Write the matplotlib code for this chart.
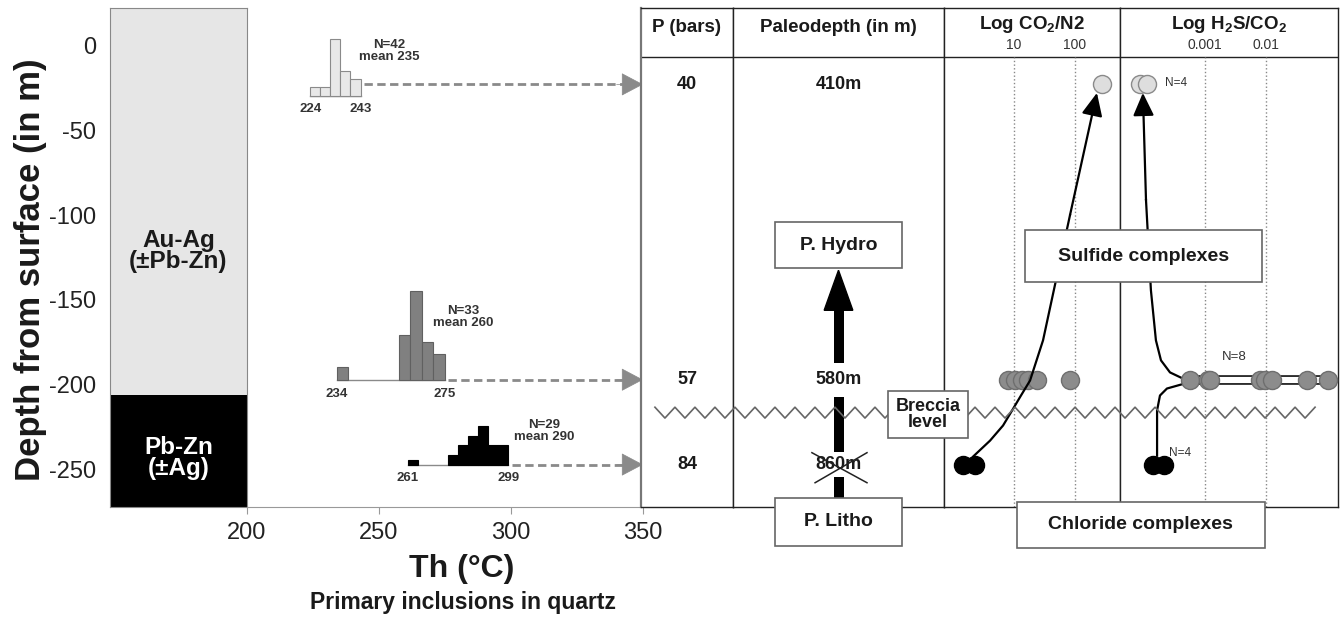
import matplotlib
matplotlib.use("Agg")
import matplotlib.pyplot as plt
from matplotlib.patches import Rectangle
from matplotlib.ticker import NullLocator
import numpy as np

plt.rcParams['font.family'] = ['Liberation Sans', 'DejaVu Sans']
plt.rcParams['mathtext.fontset'] = 'custom'
plt.rcParams['mathtext.rm'] = 'Liberation Sans'
plt.rcParams['mathtext.bf'] = 'Liberation Sans:bold'
plt.rcParams['mathtext.default'] = 'regular'
plt.rcParams['axes.unicode_minus'] = False

# ore zones of the vein (depth in m)
zone_names = ['Au-Ag\n(±Pb-Zn)', 'Pb-Zn\n(±Ag)']
zone_top = [22, -206]
zone_bottom = [-206, -272]
zone_label_depth = [-121, -243]

# sampled levels
sample_depth = [-23, -197, -247]
p_bars = [40, 57, 84]
paleodepth = ['410m', '580m', '860m']

# Th histograms, bin left edges and counts
h1_left = [224, 227.8, 231.6, 235.4, 239.2]
h1_count = [3, 3, 21, 9, 6]
h2_left = [234, 257.4, 261.8, 266.2, 270.6]
h2_count = [2, 7, 14, 6, 4]
h3_left = [261, 276.2, 280, 283.8, 287.6, 291.4, 295.2]
h3_count = [1, 2, 4, 6, 8, 4, 4]
hist_n = [42, 33, 29]
hist_mean = [235, 260, 290]
hist_min = [224, 234, 261]
hist_max = [243, 275, 299]

# gas ratios per level
co2_top = [277]
h2s_top = [8.6e-5, 1.12e-4]
co2_mid = [8.0, 10.4, 13.5, 16.9, 23.8, 82]
h2s_mid = [5.7e-4, 1.12e-3, 1.2e-3, 8.0e-3, 9.5e-3, 1.25e-2, 4.7e-2, 0.104]
co2_low = [1.46, 2.3]
h2s_low = [1.41e-4, 2.13e-4]

# evolution paths
co2_path_x = [2.13, 4.04, 6.6, 9.3, 13.0, 18.3, 29.9, 82.8, 229]
co2_path_d = [-242.3, -232.9, -224, -215.1, -206.3, -197.5, -173.8, -100, -28]
h2s_up_x = [4.7e-4, 2.67e-4, 1.90e-4, 1.57e-4, 1.30e-4, 1.08e-4, 9.6e-5]
h2s_up_d = [-196.9, -192.7, -185.6, -173.8, -144.3, -91.2, -28]
h2s_lo_x = [1.64e-4, 1.64e-4, 1.83e-4, 2.38e-4, 4.7e-4]
h2s_lo_d = [-241.8, -215.1, -206.3, -202.2, -199.2]

breccia_depth = -216.4

W, H = 1342, 621
ymin, ymax = -272, 22
TXT = '#1a1a1a'


def frame(x0, x1, y0=8, y1=507):
    return [x0 / W, 1 - y1 / H, (x1 - x0) / W, (y1 - y0) / H]


fig = plt.figure(figsize=(W / 100, H / 100), dpi=100)

# depth column with ore zones
col = fig.add_axes(frame(110, 247))
col.set_xlim(0, 1)
col.set_ylim(ymin, ymax)
zone_fc = ['#e6e6e6', 'black']
zone_tc = [TXT, 'white']
for name, top, bot, yl, fc, tc in zip(zone_names, zone_top, zone_bottom,
                                      zone_label_depth, zone_fc, zone_tc):
    col.axhspan(bot, top, color=fc, lw=0)
    col.text(0.5, yl, name, color=tc, ha='center', va='center',
             fontsize=17.5, fontweight='bold', linespacing=0.9)
col.set_xticks([])
col.set_yticks([0, -50, -100, -150, -200, -250])
col.tick_params(axis='y', length=0, labelsize=17, pad=10, labelcolor='#222')
for s in col.spines.values():
    s.set_color('#888')
col.set_ylabel('Depth from surface (in m)', fontsize=25, fontweight='bold',
               color=TXT)
col.yaxis.set_label_coords(-0.46, 0.475)

# Th axis with histograms
ax = fig.add_axes(frame(247, 643), sharey=col)
ax.patch.set_visible(False)
ax.set_xlim(200, 350)
for s in ['left', 'top', 'right']:
    ax.spines[s].set_visible(False)
ax.spines['bottom'].set_color('#999')
ax.set_xticks([200, 250, 300, 350])
ax.tick_params(axis='x', length=5, color='#999', labelsize=17,
               labelcolor='#222', pad=6)
ax.tick_params(axis='y', left=False, labelleft=False)
fig.text(462 / W, 1 - 569 / H, 'Th (°C)', ha='center', va='center',
         fontsize=23, fontweight='bold', color=TXT)
fig.text(463 / W, 1 - 602 / H, 'Primary inclusions in quartz', ha='center',
         va='center', fontsize=16.5, fontweight='bold', color=TXT)

hists = [(h1_left, h1_count, 3.8, 1.6, -29.6, '#e8e8e8', '#8a8a8a'),
         (h2_left, h2_count, 4.4, 3.75, sample_depth[1], '#808080', '#606060'),
         (h3_left, h3_count, 3.8, 2.81, sample_depth[2], 'black', 'black')]
label_pos = [(254, -3.5), (282, -160), (312.5, -227)]
for i, (left, cnt, w, scale, base, fc, ec) in enumerate(hists):
    ax.plot([hist_min[i], hist_max[i]], [base, base], color='#8a8a8a', lw=1)
    ax.bar(left, np.array(cnt) * scale, width=w, bottom=base, align='edge',
           color=fc, edgecolor=ec, lw=0.8, zorder=3)
    ax.text(*label_pos[i], f'N={hist_n[i]}\nmean {hist_mean[i]}', ha='center',
            va='center', fontsize=9.5, fontweight='bold', color='#333',
            linespacing=1.0)
    for v in (hist_min[i], hist_max[i]):
        ax.annotate(str(v), (v, base), xytext=(0, -10), textcoords='offset points',
                    ha='center', va='center', fontsize=9.5, fontweight='bold',
                    color='#333')
    # dashed link to the table row, solid triangular head
    ax.plot([hist_max[i] + 1.2, 343], [sample_depth[i]] * 2, color='#8a8a8a',
            lw=2, ls=(0, (3, 1.6)))
    ax.annotate('', xy=(350, sample_depth[i]), xytext=(340, sample_depth[i]),
                arrowprops=dict(arrowstyle='-|>,head_length=0.72,head_width=0.38',
                                lw=0.5, color='#8a8a8a', mutation_scale=20,
                                shrinkA=0, shrinkB=0),
                annotation_clip=False)

# table columns
pcol = fig.add_axes(frame(641, 733), sharey=col)
pdcol = fig.add_axes(frame(733, 944), sharey=col)
co2 = fig.add_axes(frame(944, 1120), sharey=col)
h2s = fig.add_axes(frame(1120, 1338), sharey=col)
pcol.set_xlim(0, 1)
pdcol.set_xlim(0, 1)
co2.set_xscale('log')
co2.set_xlim(0.71, 547)
h2s.set_xscale('log')
h2s.set_xlim(4.05e-5, 0.151)
header_d = -6.8
for a in (pcol, pdcol, co2, h2s):
    a.set_xticks([])
    a.xaxis.set_minor_locator(NullLocator())
    a.tick_params(left=False, labelleft=False, bottom=False, labelbottom=False)
    for s in a.spines.values():
        s.set_color('#222')
        s.set_linewidth(1)
    a.axhline(header_d, color='#222', lw=1)
pcol.spines['left'].set_color('#777')
pcol.spines['left'].set_linewidth(1.6)

head_kw = dict(ha='center', va='center', fontsize=13.5, fontweight='bold', color=TXT)
head_d = 10.3
pcol.text(0.5, head_d, 'P (bars)', **head_kw)
pdcol.text(0.5, head_d, 'Paleodepth (in m)', **head_kw)
co2.text(0.5, 12, r'Log CO$\mathbf{_2}$/N2', transform=co2.get_yaxis_transform(), **head_kw)
h2s.text(0.5, 12, r'Log H$\mathbf{_2}$S/CO$\mathbf{_2}$', transform=h2s.get_yaxis_transform(), **head_kw)
for a, ticks, labels in ((co2, [10, 100], ['10', '100']),
                         (h2s, [0.001, 0.01], ['0.001', '0.01'])):
    a.vlines(ticks, ymin, header_d, colors='#888', linestyles=':', lw=1)
    for t, lab in zip(ticks, labels):
        a.text(t, 0.3, lab, ha='center', va='center', fontsize=10, color='#333')

for d, p, pd_ in zip(sample_depth, p_bars, paleodepth):
    pcol.text(0.5, d, str(p), ha='center', va='center', fontsize=13,
              fontweight='bold', color=TXT)
    pad = 3 if pd_ == '860m' else 6
    pdcol.text(0.5, d, pd_, ha='center', va='center', fontsize=13,
               fontweight='bold', color=TXT, zorder=6,
               bbox=dict(fc='white', ec='none', pad=pad))

# lithostatic -> hydrostatic arrow
pdcol.plot([0.5, 0.5], [-266.5, -156.1], color='black', lw=7.2,
           solid_capstyle='butt', zorder=4)
pdcol.fill([0.432, 0.568, 0.5], [-156.1, -156.1, -132.5], color='black', zorder=4)
pdcol.plot([0.374, 0.635], [-240, -257.7], color='#222', lw=1.1, zorder=7)
pdcol.plot([0.389, 0.635], [-257.7, -240], color='#222', lw=1.1, zorder=7)
for y0, h, lab in ((-131.4, 27.2, 'P. Hydro'), (-294.8, 28.3, 'P. Litho')):
    pdcol.add_patch(Rectangle((0.2, y0), 0.6, h, fc='white', ec='#666', lw=1.2,
                              zorder=8, clip_on=False))
    pdcol.text(0.5, y0 + h / 2, lab, ha='center', va='center', fontsize=14,
               fontweight='bold', color=TXT, zorder=9, clip_on=False)

# gas ratio points and paths
mk = dict(ls='none', marker='o', ms=13, zorder=5)
co2.plot(co2_top, [sample_depth[0]] * len(co2_top), mfc='#dedede', mec='#8a8a8a', **mk)
h2s.plot(h2s_top, [sample_depth[0]] * len(h2s_top), mfc='#dedede', mec='#8a8a8a', **mk)
co2.plot(co2_mid, [sample_depth[1]] * len(co2_mid), mfc='#8c8c8c', mec='#6e6e6e', **mk)
h2s.plot([min(h2s_mid), max(h2s_mid)], [sample_depth[1]] * 2, color='#222',
         lw=7, solid_capstyle='butt', zorder=3)
h2s.plot([min(h2s_mid), max(h2s_mid)], [sample_depth[1]] * 2, color='white',
         lw=4.4, solid_capstyle='butt', zorder=3)
h2s.plot(h2s_mid, [sample_depth[1]] * len(h2s_mid), mfc='#8c8c8c', mec='#6e6e6e', **mk)
co2.plot(co2_low, [sample_depth[2]] * len(co2_low), mfc='black', mec='black', **mk)
h2s.plot(h2s_low, [sample_depth[2]] * len(h2s_low), mfc='black', mec='black', **mk)

arrow_kw = dict(arrowstyle='-|>,head_length=0.7,head_width=0.32', lw=1.6,
                color='black', mutation_scale=20, shrinkA=0, shrinkB=0)
co2.plot(co2_path_x[:-1], co2_path_d[:-1], color='black', lw=1.6, zorder=6)
co2.annotate('', xy=(co2_path_x[-1], co2_path_d[-1]),
             xytext=(co2_path_x[-2], co2_path_d[-2]), arrowprops=arrow_kw)
h2s.plot(h2s_up_x[:-1], h2s_up_d[:-1], color='black', lw=1.6, zorder=4)
h2s.annotate('', xy=(h2s_up_x[-1], h2s_up_d[-1]),
             xytext=(h2s_up_x[-2], h2s_up_d[-2]), arrowprops=arrow_kw)
h2s.plot(h2s_lo_x, h2s_lo_d, color='black', lw=1.6, zorder=4)
h2s.text(2.2e-4, -22.1, 'N=4', ha='left', va='center', fontsize=8.5, color='#333')
h2s.text(2.6e-4, -240, 'N=4', ha='left', va='center', fontsize=8.5, color='#333')
h2s.text(3.0e-3, -183.9, 'N=8', ha='center', va='center', fontsize=9.5, color='#333')

# overlay across the table: breccia level and complex boxes
tab = fig.add_axes(frame(641, 1338), sharey=col)
tab.set_xlim(0, 1)
tab.axis('off')
zz_x = np.arange(0.020, 0.978, 0.01435)
zz_y = breccia_depth + 3.2 * (-1.0) ** np.arange(len(zz_x))
tab.plot(zz_x, zz_y, color='#666', lw=1.2, zorder=2)
boxes = [(0.354, 0.469, -231.1, -203.9, 'Breccia\nlevel', 13),
         (0.551, 0.891, -139.6, -108.9, 'Sulfide complexes', 14),
         (0.539, 0.895, -296.0, -268.9, 'Chloride complexes', 14)]
for x0, x1, y0, y1, lab, fs in boxes:
    tab.add_patch(Rectangle((x0, y0), x1 - x0, y1 - y0, fc='white', ec='#666',
                            lw=1.2, zorder=5, clip_on=False))
    tab.text((x0 + x1) / 2, (y0 + y1) / 2, lab, ha='center', va='center',
             fontsize=fs, fontweight='bold', color=TXT, zorder=6,
             linespacing=0.95, clip_on=False)

fig.savefig('out.png', dpi=100)
